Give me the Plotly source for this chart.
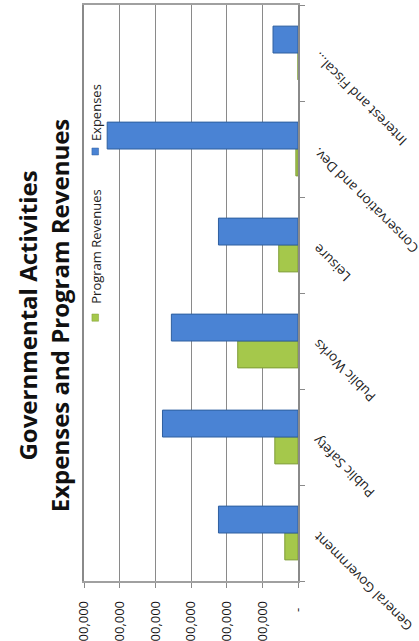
import plotly.graph_objects as go

categories = ["General Government", "Public Safety", "Public Works", "Leisure",
              "Conservation and Dev.", "Interest and Fiscal..."]
program_revenues = [370000, 650000, 1690000, 540000, 60000, 0]
expenses = [2230000, 3800000, 3550000, 2230000, 5350000, 700000]
tick_values = [0, 1000000, 2000000, 3000000, 4000000, 5000000, 6000000]
tick_labels = ["-\u00a0\u00a0", "1,000,000", "2,000,000", "3,000,000",
               "4,000,000", "5,000,000", "6,000,000"]

BLUE = "#4A83D4"
GREEN = "#A5C84B"

fig = go.Figure()
fig.add_trace(go.Bar(y=categories, x=program_revenues, orientation="h",
                     name="Program Revenues",
                     marker=dict(color=GREEN, line=dict(color="#7E9C36", width=1))))
fig.add_trace(go.Bar(y=categories, x=expenses, orientation="h", name="Expenses",
                     marker=dict(color=BLUE, line=dict(color="#2F5F9F", width=1))))

annotations = []
annotations.append(dict(text="<b>Governmental Activities<br>Expenses and Program Revenues</b>",
                        xref="paper", yref="paper", x=-0.19, y=0.462,
                        xanchor="center", yanchor="middle", textangle=-90,
                        showarrow=False, align="center",
                        font=dict(family="Open Sans", size=24, color="#111")))
annotations.append(dict(text="Program Revenues", xref="paper", yref="paper",
                        x=0.056, y=0.582, xanchor="center", yanchor="middle",
                        textangle=-90, showarrow=False,
                        font=dict(family="Open Sans", size=13, color="#222")))
annotations.append(dict(text="Expenses", xref="paper", yref="paper",
                        x=0.056, y=0.814, xanchor="center", yanchor="middle",
                        textangle=-90, showarrow=False,
                        font=dict(family="Open Sans", size=13, color="#222")))
for c in categories:
    annotations.append(dict(text=c, xref="paper", yref="y", x=1.04, y=c,
                            xanchor="left", yanchor="top", textangle=-135,
                            showarrow=False, yshift=8,
                            font=dict(family="Open Sans", size=13.5, color="#222")))

shapes = [
    dict(type="rect", xref="paper", yref="paper", x0=0.037, x1=0.068,
         y0=0.451, y1=0.4635, fillcolor=GREEN, line=dict(color="#7E9C36", width=0.5)),
    dict(type="rect", xref="paper", yref="paper", x0=0.037, x1=0.068,
         y0=0.7396, y1=0.7517, fillcolor=BLUE, line=dict(color="#2F5F9F", width=0.5)),
]

fig.update_layout(
    width=419, height=641,
    margin=dict(l=84, r=121, t=5, b=60, autoexpand=False),
    paper_bgcolor="white", plot_bgcolor="white",
    barmode="group", bargap=0.44, bargroupgap=0,
    showlegend=False,
    annotations=annotations, shapes=shapes,
    xaxis=dict(range=[6000000, 0], tickvals=tick_values, ticktext=tick_labels,
               tickangle=-90, showgrid=True, gridcolor="#8a8a8a", gridwidth=1,
               ticks="outside", ticklen=5, tickcolor="#8a8a8a",
               showline=True, linecolor="#a0a0a0", linewidth=1.5, mirror=True,
               zeroline=False, ticklabelstandoff=8, automargin=False,
               tickfont=dict(family="Open Sans", size=13, color="#111")),
    yaxis=dict(type="category", side="right", showticklabels=False,
               categoryorder="array", categoryarray=categories,
               range=[-0.5, len(categories) - 0.5],
               ticks="outside", tickson="boundaries", ticklen=5, tickcolor="#8a8a8a",
               showline=True, linecolor="#8a8a8a", linewidth=1.5, mirror=True,
               showgrid=False, zeroline=False, automargin=False),
)

fig.write_html("out.html", config={"displayModeBar": False},
               post_script="document.body.style.margin='0';")
